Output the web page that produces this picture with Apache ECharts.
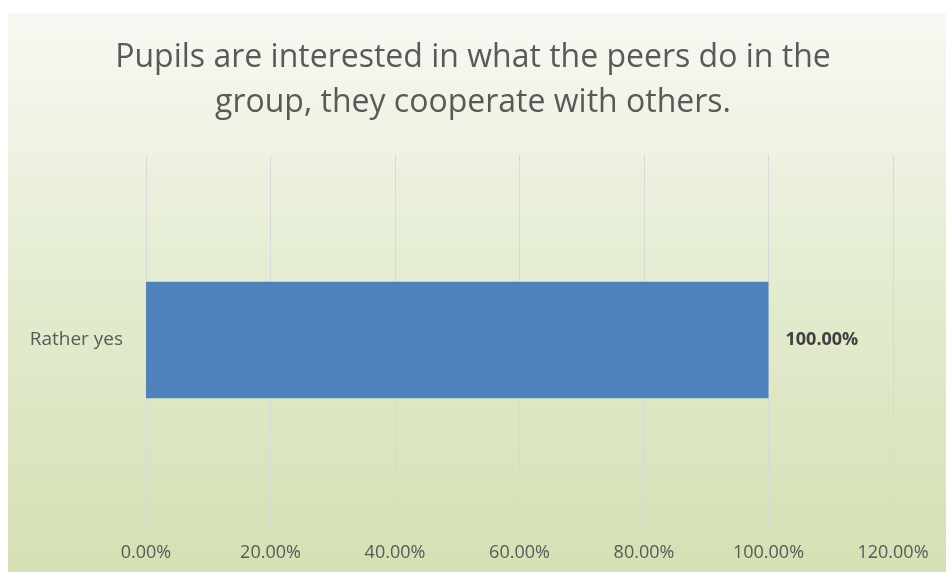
<!DOCTYPE html>
<html>
<head>
<meta charset="utf-8">
<script src="https://cdn.jsdelivr.net/npm/echarts@6/dist/echarts.min.js"></script>
<style>
html,body{margin:0;padding:0;background:#fff;}
#c{width:946px;height:572px;}
</style>
</head>
<body>
<div id="c"></div>
<script>
var titleText = "Pupils are interested in what the peers do in the\ngroup, they cooperate with others.";
var categories = ["Rather yes"];
var values = [1.0];
var axisMin = 0, axisMax = 1.2, axisInterval = 0.2;

var font = "'Open Sans', sans-serif";
var chart = echarts.init(document.getElementById('c'), null, {renderer: 'canvas'});
chart.setOption({
  backgroundColor: '#ffffff',
  animation: false,
  graphic: [{
    type: 'rect', z: -100, silent: true,
    shape: {x: 8, y: 13, width: 938, height: 559},
    style: {fill: {type: 'linear', x: 0, y: 0, x2: 0, y2: 1, colorStops: [
      {offset: 0, color: '#f7f9f3'},
      {offset: 0.5, color: '#e3ebcf'},
      {offset: 1, color: '#d5e0b4'}
    ]}}
  }],
  title: {
    text: titleText, left: 'center', top: 30,
    textStyle: {fontFamily: font, fontSize: 32, fontWeight: 'normal', color: '#595959', lineHeight: 45}
  },
  grid: {left: 146, right: 53, top: 155, bottom: 47, containLabel: false},
  xAxis: {
    type: 'value', min: axisMin, max: axisMax, interval: axisInterval,
    axisLine: {show: false}, axisTick: {show: false},
    splitLine: {show: true, lineStyle: {color: '#d9d9d9', width: 1}},
    axisLabel: {margin: 19, fontFamily: font, fontSize: 18, color: '#595959',
      formatter: function (v) { return (v * 100).toFixed(2) + '%'; }}
  },
  yAxis: {
    type: 'category', data: categories,
    axisLine: {show: false}, axisTick: {show: false},
    axisLabel: {margin: 23, fontFamily: font, fontSize: 19, color: '#595959'}
  },
  series: [{
    type: 'bar', data: values, barWidth: '31.5%',
    itemStyle: {color: '#4f81bd'},
    label: {show: true, position: 'right', distance: 17, fontFamily: font, fontSize: 18,
      fontWeight: 'bold', color: '#404040',
      formatter: function (p) { return (p.value * 100).toFixed(2) + '%'; }}
  }]
});
</script>
</body>
</html>
